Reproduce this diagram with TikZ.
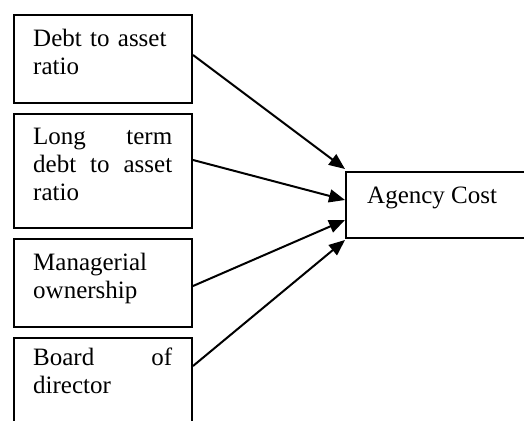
\documentclass[tikz,border=0pt]{standalone}
\usepackage{fontspec}
\setmainfont{Liberation Serif}
\usetikzlibrary{arrows.meta,calc}
\begin{document}
\begin{tikzpicture}[x=1pt,y=-1pt,
  box/.style={draw=black, line width=2pt, rectangle, inner sep=0pt, anchor=north west},
  lbl/.style={inner sep=0pt, anchor=base west, text width=139pt, font=\fontsize{25}{28}\selectfont},
  arr/.style={line width=2pt, -{Triangle[length=16pt,width=13pt]}}]
\useasboundingbox (0,0) rectangle (524,420);
\node[box, minimum width=178pt, minimum height=88pt] (b1) at (13,14) {};
\node[box, minimum width=178pt, minimum height=114pt] (b2) at (13,113) {};
\node[box, minimum width=178pt, minimum height=88pt] (b3) at (13,238) {};
\node[box, minimum width=178pt, minimum height=100pt] (b4) at (13,337) {};
\node[box, minimum width=190pt, minimum height=66pt] (ag) at (345,171) {};
\node[lbl, align=left] (t1) at (33,47) {Debt to asset\\ratio};
\node[lbl, align=justify] (t2) at (33,144) {Long term\linebreak debt to asset\linebreak ratio};
\node[lbl, align=left] (t3) at (33,270) {Managerial\\ownership};
\node[lbl, align=justify] (t4) at (33,365) {Board of\linebreak director};
\node[inner sep=0pt, anchor=base west, font=\fontsize{25}{28}\selectfont] (t5) at (367,203) {Agency Cost};
\draw[arr] ($(b1.north east)+(0,41)$) -- ($(ag.north west)+(0,-2)$);
\draw[arr] ($(b2.north east)+(0,47)$) -- ($(ag.north west)+(0,29)$);
\draw[arr] ($(b3.north east)+(0,48)$) -- ($(ag.north west)+(0,49)$);
\draw[arr] ($(b4.north east)+(0,29)$) -- ($(ag.north west)+(0,69)$);
\end{tikzpicture}
\end{document}
